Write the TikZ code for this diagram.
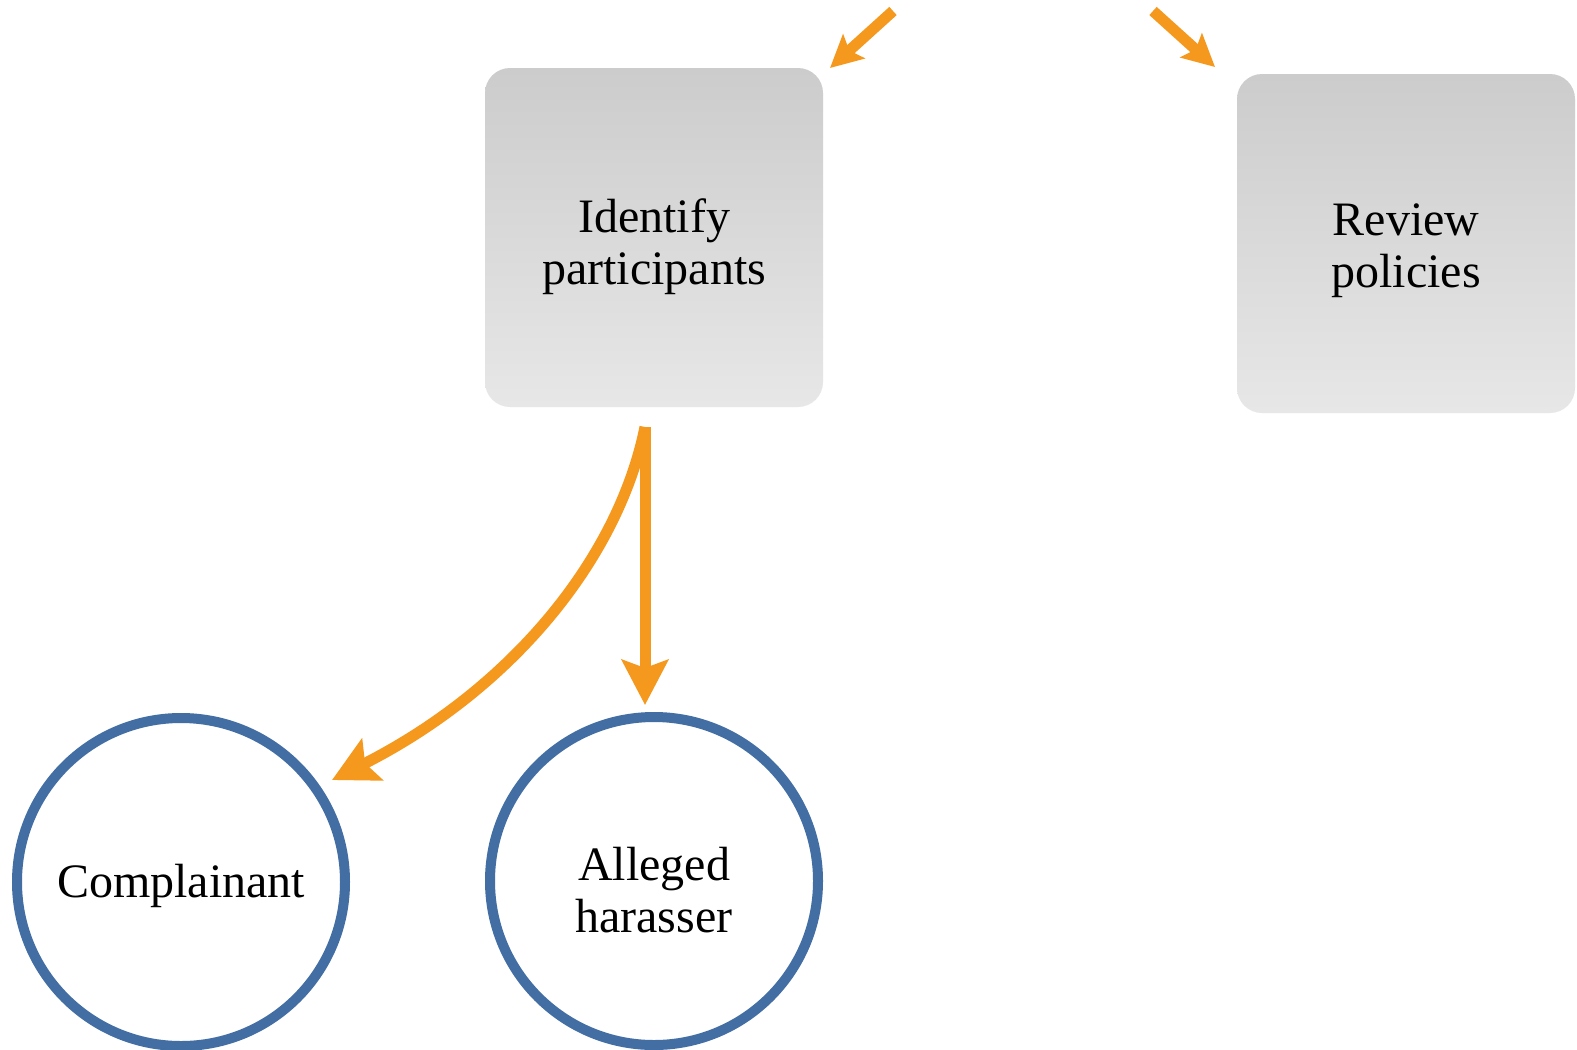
\documentclass[tikz,border=0pt]{standalone}
\usepackage{fontspec}
\setmainfont{Liberation Serif}
\usetikzlibrary{arrows.meta,shapes.geometric}
\definecolor{arrorange}{RGB}{245,153,30}
\definecolor{ringblue}{RGB}{66,110,163}
\definecolor{boxtop}{RGB}{204,204,204}
\definecolor{boxbot}{RGB}{231,231,231}
\newcommand{\nodetext}[2]{\raisebox{#1}[0pt][0pt]{\begin{tabular}[t]{@{}c@{}}#2\end{tabular}}}
\tikzset{
  stepbox/.style={rectangle, rounded corners=12.5pt, minimum width=169pt, minimum height=169.5pt,
    top color=boxtop, bottom color=boxbot, draw=none,
    font=\fontsize{24pt}{26pt}\selectfont},
  ringnode/.style={circle, minimum size=164pt, draw=ringblue, line width=5pt, fill=white,
    font=\fontsize{24pt}{26pt}\selectfont},
  bigarr/.style={draw=arrorange, line width=5.5pt,
    -{Stealth[length=22.5pt, width=23pt, inset=4pt]}},
  smallarr/.style={draw=arrorange, line width=5.5pt,
    -{Stealth[length=16pt, width=16pt, inset=3pt]}}
}
\begin{document}
\begin{tikzpicture}[x=0.5pt, y=-0.5pt]
\useasboundingbox (0,0) rectangle (1577,1049);
\fill[white] (0,0) rectangle (1577,1049);
\node[stepbox] (id) at (654,237.5) {\nodetext{2.75pt}{Identify\\participants}};
\node[stepbox] (rev) at (1406,243.5) {\nodetext{4.25pt}{Review\\policies}};
\node[ringnode] (comp) at (181,882) {\nodetext{-7.5pt}{Complainant}};
\node[ringnode] (harass) at (654,881) {\nodetext{0.5pt}{Alleged\\harasser}};
\coordinate (src) at (645,427);
\coordinate (ctip) at (332,780);
\coordinate (htip) at (645,705);
\coordinate (t1) at (893,11);
\coordinate (tip1) at (830,68);
\coordinate (t2) at (1153,11);
\coordinate (tip2) at (1215,67);
\draw[bigarr] (src) -- (htip);
\draw[bigarr] (src) .. controls (618,560) and (510,690) .. (ctip);
\draw[smallarr] (t1) -- (tip1);
\draw[smallarr] (t2) -- (tip2);
\end{tikzpicture}
\end{document}
